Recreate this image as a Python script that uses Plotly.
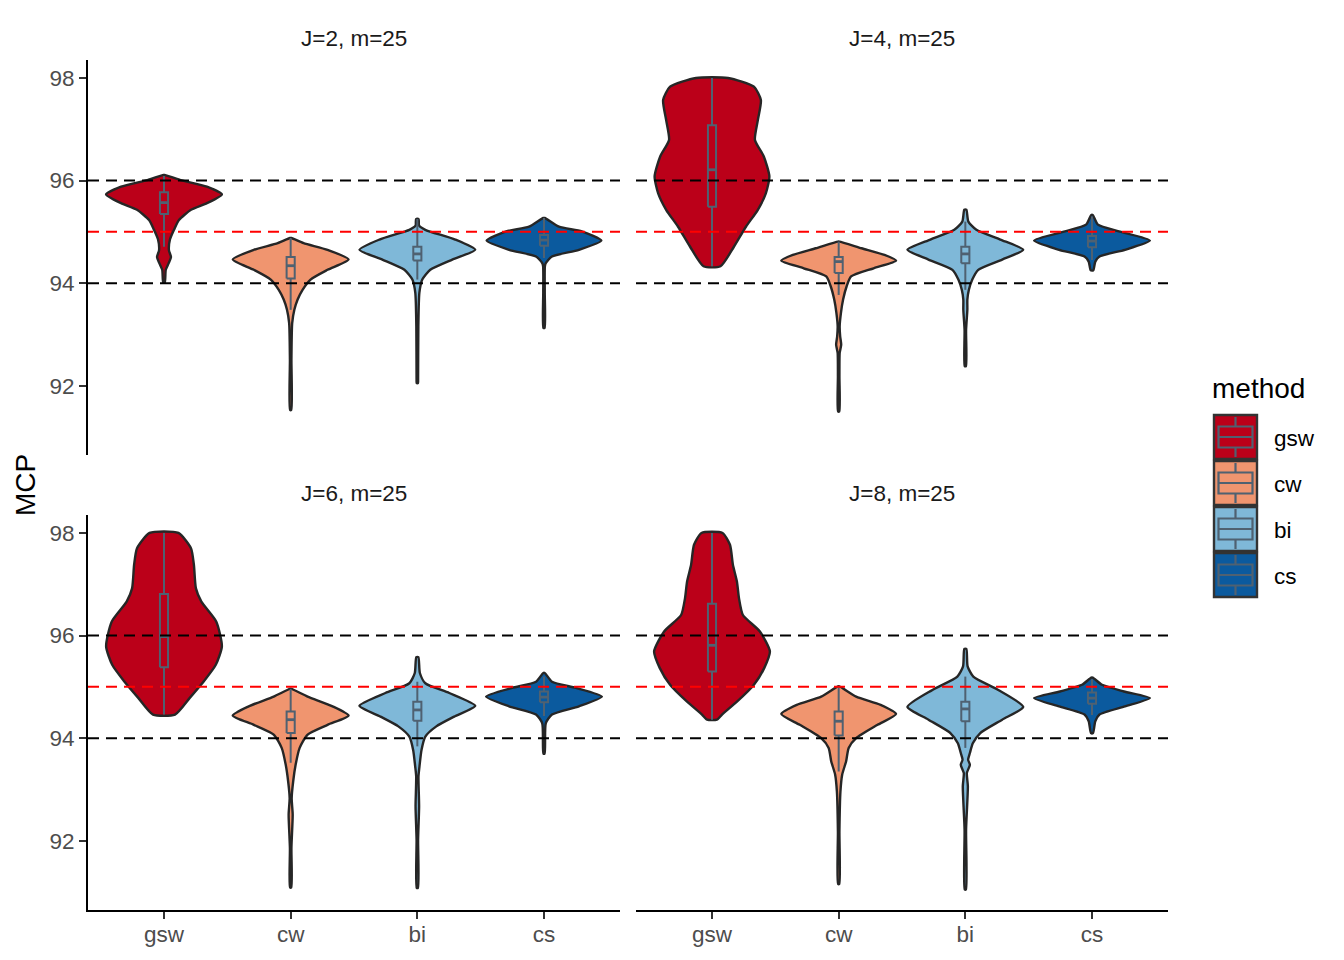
import plotly.graph_objects as go

# ---------------- data ----------------
methods = ["gsw", "cw", "bi", "cs"]
method_pos = [1, 2, 3, 4]
panels = ["J=2, m=25", "J=4, m=25", "J=6, m=25", "J=8, m=25"]
fill_colors = ["#BB0019", "#F0956F", "#7FB8D8", "#0B5A9E"]
ref_black = [94, 96]
ref_red = [95]
y_ticks = [92, 94, 96, 98]

# violin profiles: MCP levels (top -> bottom) and half widths (category units)
gsw_J2_level = [96.11, 96.01, 95.88, 95.73, 95.56, 95.43, 95.23, 95.04, 94.85, 94.64, 94.51, 94.39, 94.26, 94.01]
gsw_J2_hw = [0.004, 0.131, 0.339, 0.457, 0.339, 0.213, 0.118, 0.079, 0.047, 0.039, 0.055, 0.037, 0.014, 0.006]
cw_J2_level = [94.88, 94.78, 94.65, 94.46, 94.26, 94.07, 93.87, 93.68, 93.48, 93.22, 92.51, 91.53]
cw_J2_hw = [0.006, 0.102, 0.291, 0.457, 0.291, 0.157, 0.094, 0.055, 0.029, 0.012, 0.006, 0.005]
bi_J2_level = [95.25, 95.12, 95.04, 94.85, 94.65, 94.46, 94.26, 94.07, 93.81, 93.16, 92.12, 92.05]
bi_J2_hw = [0.010, 0.014, 0.063, 0.299, 0.457, 0.276, 0.102, 0.039, 0.016, 0.008, 0.006, 0.005]
cs_J2_level = [95.27, 95.10, 95.01, 94.83, 94.65, 94.52, 94.39, 94.33, 93.81, 93.13]
cs_J2_hw = [0.006, 0.118, 0.299, 0.453, 0.276, 0.063, 0.014, 0.007, 0.006, 0.005]

gsw_J4_level = [98.0, 97.83, 97.57, 97.18, 96.79, 96.47, 96.08, 95.75, 95.43, 95.10, 94.71, 94.33]
gsw_J4_hw = [0.126, 0.331, 0.386, 0.362, 0.339, 0.409, 0.453, 0.425, 0.362, 0.268, 0.173, 0.067]
cw_J4_level = [94.81, 94.68, 94.55, 94.44, 94.29, 94.13, 93.94, 93.68, 93.42, 93.16, 92.96, 92.80, 92.64, 92.18, 91.50]
cw_J4_hw = [0.006, 0.181, 0.362, 0.453, 0.276, 0.098, 0.063, 0.035, 0.018, 0.008, 0.012, 0.020, 0.008, 0.006, 0.005]
bi_J4_level = [95.43, 95.20, 95.04, 94.85, 94.65, 94.46, 94.26, 94.07, 93.87, 93.68, 93.48, 93.09, 92.38]
bi_J4_hw = [0.008, 0.024, 0.087, 0.276, 0.457, 0.291, 0.102, 0.055, 0.028, 0.016, 0.016, 0.006, 0.005]
cs_J4_level = [95.33, 95.14, 95.01, 94.83, 94.65, 94.52, 94.42, 94.25]
cs_J4_hw = [0.006, 0.047, 0.213, 0.457, 0.260, 0.059, 0.026, 0.010]

gsw_J6_level = [98.0, 97.70, 97.38, 96.92, 96.66, 96.27, 95.79, 95.43, 95.11, 94.79, 94.46]
gsw_J6_hw = [0.114, 0.213, 0.236, 0.252, 0.295, 0.413, 0.457, 0.409, 0.315, 0.205, 0.087]
cw_J6_level = [94.96, 94.81, 94.62, 94.44, 94.26, 94.07, 93.81, 93.48, 93.16, 92.83, 92.51, 91.86, 91.09]
cw_J6_hw = [0.006, 0.134, 0.331, 0.457, 0.291, 0.134, 0.071, 0.039, 0.020, 0.008, 0.016, 0.006, 0.005]
bi_J6_level = [95.58, 95.27, 95.07, 94.88, 94.63, 94.42, 94.23, 94.03, 93.77, 93.45, 93.25, 92.67, 92.02, 91.08]
bi_J6_hw = [0.008, 0.020, 0.063, 0.252, 0.457, 0.291, 0.150, 0.063, 0.033, 0.017, 0.009, 0.014, 0.006, 0.005]
cs_J6_level = [95.27, 95.10, 94.98, 94.81, 94.62, 94.46, 94.29, 93.70]
cs_J6_hw = [0.006, 0.063, 0.252, 0.457, 0.276, 0.063, 0.014, 0.005]

gsw_J8_level = [98.0, 97.77, 97.38, 97.05, 96.73, 96.40, 96.08, 95.69, 95.37, 95.04, 94.71, 94.46, 94.36]
gsw_J8_hw = [0.083, 0.142, 0.165, 0.197, 0.213, 0.244, 0.378, 0.457, 0.413, 0.331, 0.197, 0.079, 0.039]
cw_J8_level = [95.01, 94.81, 94.65, 94.47, 94.26, 94.00, 93.81, 93.55, 93.29, 92.96, 92.18, 91.16]
cw_J8_hw = [0.006, 0.138, 0.331, 0.453, 0.307, 0.138, 0.079, 0.059, 0.028, 0.014, 0.006, 0.005]
bi_J8_level = [95.74, 95.40, 95.20, 94.94, 94.61, 94.36, 94.10, 93.90, 93.71, 93.58, 93.48, 93.32, 93.06, 92.22, 91.05]
bi_J8_hw = [0.008, 0.018, 0.063, 0.260, 0.457, 0.291, 0.118, 0.059, 0.036, 0.022, 0.036, 0.012, 0.020, 0.006, 0.005]
cs_J8_level = [95.18, 95.04, 94.91, 94.78, 94.62, 94.46, 94.33, 94.10]
cs_J8_hw = [0.006, 0.079, 0.252, 0.457, 0.260, 0.059, 0.026, 0.008]

# box statistics per panel, order gsw, cw, bi, cs
box_q1_J2 = [95.35, 94.09, 94.44, 94.73]
box_med_J2 = [95.57, 94.34, 94.57, 94.84]
box_q3_J2 = [95.77, 94.51, 94.71, 94.94]
box_lo_J2 = [94.71, 93.48, 94.07, 94.49]
box_hi_J2 = [96.09, 94.88, 95.25, 95.27]

box_q1_J4 = [95.49, 94.20, 94.39, 94.70]
box_med_J4 = [96.21, 94.42, 94.57, 94.82]
box_q3_J4 = [97.08, 94.51, 94.71, 94.92]
box_lo_J4 = [94.33, 93.77, 93.87, 94.45]
box_hi_J4 = [98.0, 94.81, 95.20, 95.30]

box_q1_J6 = [95.38, 94.10, 94.34, 94.70]
box_med_J6 = [95.98, 94.36, 94.55, 94.80]
box_q3_J6 = [96.81, 94.52, 94.71, 94.91]
box_lo_J6 = [94.46, 93.52, 93.84, 94.43]
box_hi_J6 = [98.0, 94.96, 95.10, 95.20]

box_q1_J8 = [95.30, 94.05, 94.33, 94.67]
box_med_J8 = [95.81, 94.33, 94.57, 94.78]
box_q3_J8 = [96.62, 94.52, 94.71, 94.89]
box_lo_J8 = [94.36, 93.35, 93.81, 94.45]
box_hi_J8 = [98.0, 95.01, 95.20, 95.15]

# ---------------- assemble ----------------
violins = [
    [(gsw_J2_level, gsw_J2_hw), (cw_J2_level, cw_J2_hw), (bi_J2_level, bi_J2_hw), (cs_J2_level, cs_J2_hw)],
    [(gsw_J4_level, gsw_J4_hw), (cw_J4_level, cw_J4_hw), (bi_J4_level, bi_J4_hw), (cs_J4_level, cs_J4_hw)],
    [(gsw_J6_level, gsw_J6_hw), (cw_J6_level, cw_J6_hw), (bi_J6_level, bi_J6_hw), (cs_J6_level, cs_J6_hw)],
    [(gsw_J8_level, gsw_J8_hw), (cw_J8_level, cw_J8_hw), (bi_J8_level, bi_J8_hw), (cs_J8_level, cs_J8_hw)],
]
boxes = [
    (box_q1_J2, box_med_J2, box_q3_J2, box_lo_J2, box_hi_J2),
    (box_q1_J4, box_med_J4, box_q3_J4, box_lo_J4, box_hi_J4),
    (box_q1_J6, box_med_J6, box_q3_J6, box_lo_J6, box_hi_J6),
    (box_q1_J8, box_med_J8, box_q3_J8, box_lo_J8, box_hi_J8),
]

OFF = 8  # browser body margin
W, H = 1344 - 2 * OFF, 960 - 2 * OFF
FONT = "Liberation Sans, Arial, sans-serif"
OUTLINE = "#262626"
BOXLINE = "#4F6171"
BOX_HALF = 0.032


def fx(p):
    return (p - OFF) / W


def fy(p):
    return 1 - (p - OFF) / H


x_domains = [[fx(88), fx(620)], [fx(636), fx(1168)]]
y_domains = [[fy(455), fy(60)], [fy(910), fy(515)]]
YR = [90.65, 98.35]
XR = [0.4, 4.6]

fig = go.Figure()

for pi in range(4):
    suffix = "" if pi == 0 else str(pi + 1)
    xa, ya = "x" + suffix, "y" + suffix
    for mi, m in enumerate(methods):
        lev, hw = violins[pi][mi]
        c = method_pos[mi]
        xs = [c + w for w in hw] + [c - w for w in reversed(hw)]
        ys = list(lev) + list(reversed(lev))
        xs.append(xs[0])
        ys.append(ys[0])
        fig.add_trace(go.Scatter(
            x=xs, y=ys, mode="lines", fill="toself",
            fillcolor=fill_colors[mi],
            line=dict(color=OUTLINE, width=2.4, shape="spline", smoothing=0.6),
            xaxis=xa, yaxis=ya, showlegend=False, hoverinfo="skip"))
    q1, med, q3, lo, hi = boxes[pi]
    for mi, m in enumerate(methods):
        c = method_pos[mi]
        # whiskers
        fig.add_trace(go.Scatter(
            x=[c, c, None, c, c], y=[hi[mi], q3[mi], None, q1[mi], lo[mi]],
            mode="lines", line=dict(color=BOXLINE, width=2.0),
            xaxis=xa, yaxis=ya, showlegend=False, hoverinfo="skip"))
        # box body
        fig.add_trace(go.Scatter(
            x=[c - BOX_HALF, c + BOX_HALF, c + BOX_HALF, c - BOX_HALF, c - BOX_HALF],
            y=[q1[mi], q1[mi], q3[mi], q3[mi], q1[mi]],
            mode="lines", fill="toself", fillcolor=fill_colors[mi],
            line=dict(color=BOXLINE, width=2.0),
            xaxis=xa, yaxis=ya, showlegend=False, hoverinfo="skip"))
        # median
        fig.add_trace(go.Scatter(
            x=[c - BOX_HALF, c + BOX_HALF], y=[med[mi], med[mi]],
            mode="lines", line=dict(color=BOXLINE, width=2.8),
            xaxis=xa, yaxis=ya, showlegend=False, hoverinfo="skip"))
    # reference lines
    for v in ref_black:
        fig.add_shape(type="line", xref=xa + " domain", yref=ya, x0=0, x1=1, y0=v, y1=v,
                      line=dict(color="black", width=2, dash="11px,7px"), layer="above")
    for v in ref_red:
        fig.add_shape(type="line", xref=xa + " domain", yref=ya, x0=0, x1=1, y0=v, y1=v,
                      line=dict(color="#FF0000", width=2, dash="11px,7px"), layer="above")

layout = dict(
    width=W, height=H, margin=dict(l=0, r=0, t=0, b=0),
    paper_bgcolor="white", plot_bgcolor="white",
    showlegend=False,
    font=dict(family=FONT, size=22, color="#4D4D4D"),
)

for pi in range(4):
    col, row = pi % 2, pi // 2
    suffix = "" if pi == 0 else str(pi + 1)
    bottom = row == 1
    left = col == 0
    layout["xaxis" + suffix] = dict(
        domain=x_domains[col], range=XR, anchor="y" + suffix,
        tickvals=method_pos, ticktext=methods,
        showticklabels=bottom, ticks="outside" if bottom else "",
        ticklen=7, tickwidth=1.8, tickcolor="#333333",
        showline=bottom, linecolor="black", linewidth=1.8,
        showgrid=False, zeroline=False, ticklabelstandoff=-4,
        tickfont=dict(family=FONT, size=22.5, color="#4D4D4D"),
    )
    layout["yaxis" + suffix] = dict(
        domain=y_domains[row], range=YR, anchor="x" + suffix,
        tickvals=y_ticks, showticklabels=left, ticks="outside" if left else "",
        ticklen=7, tickwidth=1.8, tickcolor="#333333",
        showline=left, linecolor="black", linewidth=1.8,
        showgrid=False, zeroline=False,
        tickfont=dict(family=FONT, size=22.5, color="#4D4D4D"),
    )

annotations = []
strip_y = [38, 493]
for pi, title in enumerate(panels):
    col, row = pi % 2, pi // 2
    annotations.append(dict(
        text=title, x=sum(x_domains[col]) / 2, y=fy(strip_y[row]),
        xref="paper", yref="paper", showarrow=False, xanchor="center", yanchor="middle",
        font=dict(family=FONT, size=22.5, color="#1A1A1A")))
annotations.append(dict(
    text="MCP", x=fx(25), y=fy(485), xref="paper", yref="paper", showarrow=False,
    textangle=-90, xanchor="center", yanchor="middle",
    font=dict(family=FONT, size=28, color="black")))

# legend drawn by hand (ggplot-style keys)
annotations.append(dict(
    text="method", x=fx(1210), y=fy(388), xref="paper", yref="paper", showarrow=False,
    xanchor="left", yanchor="middle", font=dict(family=FONT, size=28, color="black")))
shapes = list(fig.layout.shapes)
key_left, key_right, key_top, key_size, key_gap = 1214, 1257, 415, 44, 2
for mi, m in enumerate(methods):
    t = key_top + mi * (key_size + key_gap)
    b = t + key_size
    cy = (t + b) / 2
    cx = (key_left + key_right) / 2
    shapes.append(dict(type="rect", xref="paper", yref="paper",
                       x0=fx(key_left), x1=fx(key_right), y0=fy(b), y1=fy(t),
                       fillcolor=fill_colors[mi], line=dict(color="#333333", width=2.4)))
    shapes.append(dict(type="line", xref="paper", yref="paper", x0=fx(cx), x1=fx(cx),
                       y0=fy(t + 2), y1=fy(cy - 10.5), line=dict(color=BOXLINE, width=2.2)))
    shapes.append(dict(type="line", xref="paper", yref="paper", x0=fx(cx), x1=fx(cx),
                       y0=fy(cy + 10.5), y1=fy(b - 2), line=dict(color=BOXLINE, width=2.2)))
    shapes.append(dict(type="rect", xref="paper", yref="paper",
                       x0=fx(key_left + 4.5), x1=fx(key_right - 4.5), y0=fy(cy + 10.5), y1=fy(cy - 10.5),
                       fillcolor=fill_colors[mi], line=dict(color=BOXLINE, width=2.2)))
    shapes.append(dict(type="line", xref="paper", yref="paper",
                       x0=fx(key_left + 4.5), x1=fx(key_right - 4.5), y0=fy(cy), y1=fy(cy),
                       line=dict(color=BOXLINE, width=2.2)))
    annotations.append(dict(
        text=m, x=fx(1272), y=fy(cy + 1), xref="paper", yref="paper", showarrow=False,
        xanchor="left", yanchor="middle", font=dict(family=FONT, size=22.5, color="black")))

layout["annotations"] = annotations
layout["shapes"] = shapes
fig.update_layout(**layout)

fig.write_html("out.html")
